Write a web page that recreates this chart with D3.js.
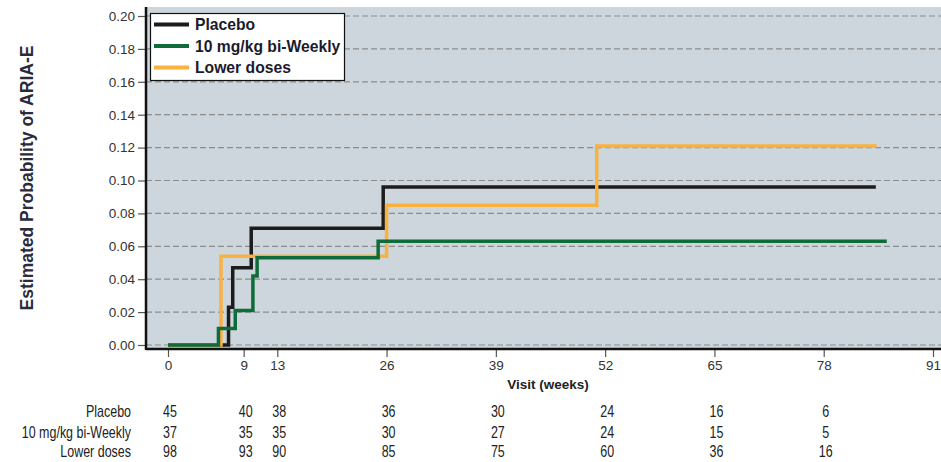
<!DOCTYPE html>
<html>
<head>
<meta charset="utf-8">
<script src="https://cdn.jsdelivr.net/npm/d3@7"></script>
<style>
  body { margin: 0; background: #fff; }
  svg { display: block; font-family: "Liberation Sans", Arial, sans-serif; }
</style>
</head>
<body>
<script>
// ---- data ----------------------------------------------------------
let groups = ['Placebo', '10 mg/kg bi-Weekly', 'Lower doses'];
let colors = ['#1c1c1c', '#0f6b3a', '#f9b13f'];

// step curves [week, estimated probability]
let placeboSteps = [[0, 0], [7.2, 0.023], [7.7, 0.047], [9.9, 0.071], [25.6, 0.096], [84.2, 0.096]];
let biWeeklySteps = [[0, 0], [6.0, 0.010], [8.0, 0.021], [10.1, 0.042], [10.6, 0.053], [25.0, 0.063], [85.5, 0.063]];
let lowerSteps = [[0, 0], [6.3, 0.054], [26.0, 0.085], [51.0, 0.121], [84.3, 0.121]];

let xTicks = [0, 9, 13, 26, 39, 52, 65, 78, 91];
let yTicks = [0, 0.02, 0.04, 0.06, 0.08, 0.10, 0.12, 0.14, 0.16, 0.18, 0.20];

// numbers at risk
let riskWeeks = [0, 9, 13, 26, 39, 52, 65, 78];
let placeboN = [45, 40, 38, 36, 30, 24, 16, 6];
let biWeeklyN = [37, 35, 35, 30, 27, 24, 15, 5];
let lowerN = [98, 93, 90, 85, 75, 60, 36, 16];

// ---- layout --------------------------------------------------------
let W = 941, H = 462;
let svg = d3.select('body').append('svg')
    .attr('width', W)
    .attr('height', H);

let x = d3.scaleLinear().domain([0, 91]).range([168, 933]);
let y = d3.scaleLinear().domain([0, 0.2]).range([345, 16]);

let plotLeft = 146, plotRight = 941, plotTop = 7, plotBottom = 349;

// plot background
svg.append('rect')
    .attr('x', plotLeft)
    .attr('y', plotTop)
    .attr('width', plotRight - plotLeft)
    .attr('height', plotBottom - plotTop)
    .attr('fill', '#cdd6dc');

// dashed grid
svg.selectAll('.grid')
    .data(yTicks).enter()
    .append('line')
        .attr('class', 'grid')
        .attr('x1', plotLeft)
        .attr('x2', plotRight)
        .attr('y1', d => y(d))
        .attr('y2', d => y(d))
        .attr('stroke', '#8c8c8c')
        .attr('stroke-width', 1.2)
        .attr('stroke-dasharray', '6,3');

// y axis
let yAxis = d3.axisLeft(y)
    .tickValues(yTicks)
    .tickFormat(d3.format('.2f'))
    .tickSize(8)
    .tickPadding(3);

let yg = svg.append('g')
    .attr('transform', 'translate(' + plotLeft + ',0)')
    .call(yAxis);
yg.select('.domain').remove();
yg.selectAll('.tick line').attr('stroke', '#555').attr('stroke-width', 1.2);
yg.selectAll('.tick text')
    .attr('font-size', 13.5)
    .attr('font-family', '"Liberation Sans", Arial, sans-serif')
    .attr('fill', '#333');

// x axis
let xAxis = d3.axisBottom(x)
    .tickValues(xTicks)
    .tickSize(8)
    .tickPadding(3);

let xg = svg.append('g')
    .attr('transform', 'translate(0,' + plotBottom + ')')
    .call(xAxis);
xg.select('.domain').remove();
xg.selectAll('.tick line').attr('stroke', '#555').attr('stroke-width', 1.2);
xg.selectAll('.tick text')
    .attr('font-size', 13.5)
    .attr('font-family', '"Liberation Sans", Arial, sans-serif')
    .attr('fill', '#333');

// frame: thick left and bottom lines
svg.append('line')
    .attr('x1', plotLeft).attr('x2', plotLeft)
    .attr('y1', plotTop).attr('y2', plotBottom + 1)
    .attr('stroke', '#111').attr('stroke-width', 2.5);
svg.append('line')
    .attr('x1', plotLeft).attr('x2', plotRight)
    .attr('y1', plotBottom).attr('y2', plotBottom)
    .attr('stroke', '#111').attr('stroke-width', 2.5);

// ---- step curves ---------------------------------------------------
let stepLine = d3.line()
    .x(d => x(d[0]))
    .y(d => y(d[1]))
    .curve(d3.curveStepAfter);

let curves = [placeboSteps, lowerSteps, biWeeklySteps];
let curveColors = [colors[0], colors[2], colors[1]];

svg.selectAll('.curve')
    .data(curves).enter()
    .append('path')
        .attr('class', 'curve')
        .attr('fill', 'none')
        .attr('stroke', (d, i) => curveColors[i])
        .attr('stroke-width', 3.5)
        .attr('d', d => stepLine(d));

// ---- legend --------------------------------------------------------
let legend = svg.append('g');
legend.append('rect')
    .attr('x', 150.5).attr('y', 13.5)
    .attr('width', 194).attr('height', 67)
    .attr('fill', '#fff')
    .attr('stroke', '#111')
    .attr('stroke-width', 1.2);

legend.selectAll('.legline')
    .data(groups).enter()
    .append('line')
        .attr('x1', 154).attr('x2', 189)
        .attr('y1', (d, i) => 24.5 + i * 21.5)
        .attr('y2', (d, i) => 24.5 + i * 21.5)
        .attr('stroke', (d, i) => colors[i])
        .attr('stroke-width', 4);

legend.selectAll('.legtext')
    .data(groups).enter()
    .append('text')
        .attr('x', 195)
        .attr('y', (d, i) => 24.5 + i * 21.5)
        .attr('dy', '0.36em')
        .attr('font-size', 15.7)
        .attr('font-weight', 'bold')
        .attr('fill', '#1b1b2e')
        .text(d => d);

// ---- axis titles ---------------------------------------------------
svg.append('text')
    .attr('transform', 'translate(33,178) rotate(-90)')
    .attr('text-anchor', 'middle')
    .attr('font-size', 17.5)
    .attr('font-weight', 'bold')
    .attr('fill', '#2a2a3a')
    .text('Estimated Probability of ARIA-E');

svg.append('text')
    .attr('x', 548)
    .attr('y', 389)
    .attr('text-anchor', 'middle')
    .attr('font-size', 13.5)
    .attr('font-weight', 'bold')
    .attr('fill', '#222')
    .text('Visit (weeks)');

// ---- numbers at risk table (condensed look) -------------------------
let riskRows = [placeboN, biWeeklyN, lowerN];
let rowY = [412, 433, 452];
let squeeze = 0.78;

svg.selectAll('.rowlabel')
    .data(groups).enter()
    .append('text')
        .attr('transform', (d, i) => 'translate(131,' + rowY[i] + ') scale(' + squeeze + ',1)')
        .attr('dy', '0.33em')
        .attr('text-anchor', 'end')
        .attr('font-size', 16)
        .attr('fill', '#222')
        .text(d => d);

riskRows.forEach(function (row, r) {
    svg.selectAll('.risk' + r)
        .data(row).enter()
        .append('text')
            .attr('transform', (d, i) => 'translate(' + (x(riskWeeks[i]) + 2) + ',' + rowY[r] + ') scale(' + squeeze + ',1)')
            .attr('dy', '0.33em')
            .attr('text-anchor', 'middle')
            .attr('font-size', 16)
            .attr('fill', '#222')
            .text(d => d);
});
</script>
</body>
</html>
